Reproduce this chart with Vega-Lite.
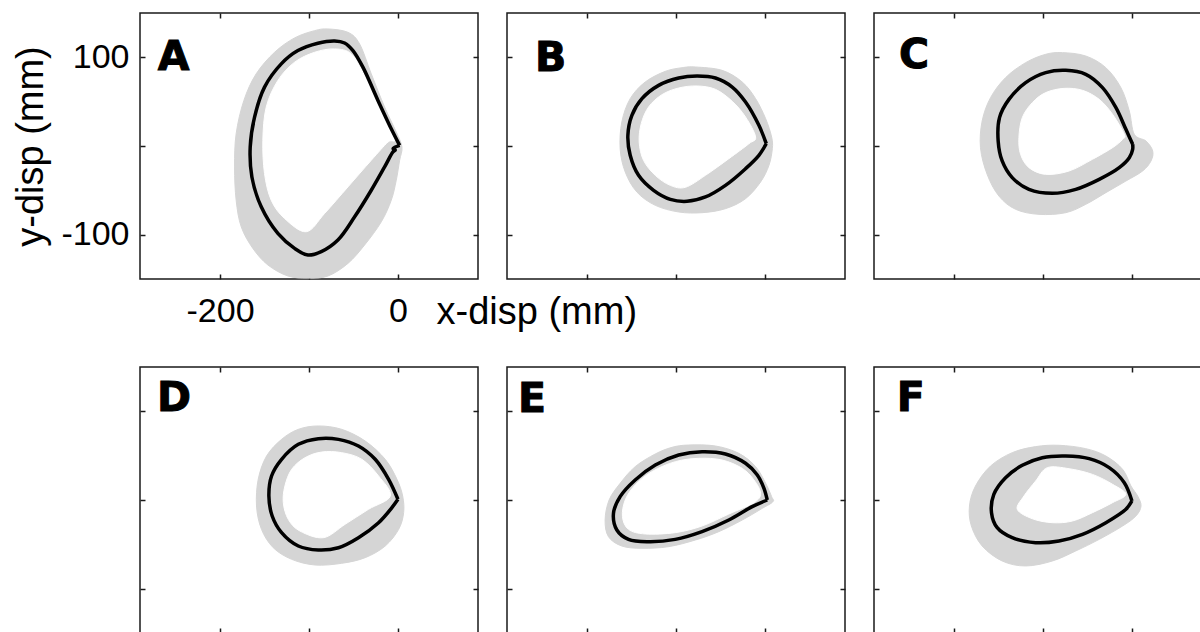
{
  "$schema": "https://vega.github.io/schema/vega-lite/v6.json",
  "background": "white",
  "padding": {"left": 12, "top": 11, "right": 0, "bottom": 0},
  "bounds": "flush",
  "columns": 3,
  "spacing": {"row": 88, "column": 29},
  "config": {
    "view": {"stroke": "#1a1a1a", "strokeWidth": 1.5},
    "axis": {
      "domain": false,
      "grid": false,
      "tickSize": -5,
      "tickColor": "#1a1a1a",
      "tickWidth": 1.5,
      "labelFont": "Liberation Sans",
      "labelFontSize": 34,
      "labelColor": "#000",
      "labelOverlap": false,
      "titleFont": "Liberation Sans",
      "titleFontSize": 38,
      "titleFontWeight": "normal",
      "titleColor": "#000"
    }
  },
  "datasets": {
    "paths": [
      {"p":"A","s":"outer","i":0,"x":-78.7,"y":132},{"p":"A","s":"outer","i":1,"x":-56.2,"y":128.2},{"p":"A","s":"outer","i":2,"x":-43.1,"y":115.1},{"p":"A","s":"outer","i":3,"x":-30,"y":81.4},{"p":"A","s":"outer","i":4,"x":-15,"y":43.9},{"p":"A","s":"outer","i":5,"x":-1.9,"y":15.7},{"p":"A","s":"outer","i":6,"x":4.5,"y":-1.1},{"p":"A","s":"outer","i":7,"x":1.9,"y":-16.1},{"p":"A","s":"outer","i":8,"x":-1.9,"y":-38.6},{"p":"A","s":"outer","i":9,"x":-7.5,"y":-61.1},{"p":"A","s":"outer","i":10,"x":-18.7,"y":-85.5},{"p":"A","s":"outer","i":11,"x":-37.5,"y":-111.7},{"p":"A","s":"outer","i":12,"x":-56.2,"y":-132.4},{"p":"A","s":"outer","i":13,"x":-78.7,"y":-146.6},{"p":"A","s":"outer","i":14,"x":-101.2,"y":-149},{"p":"A","s":"outer","i":15,"x":-123.7,"y":-146.6},{"p":"A","s":"outer","i":16,"x":-146.2,"y":-134.2},{"p":"A","s":"outer","i":17,"x":-163.1,"y":-115.5},{"p":"A","s":"outer","i":18,"x":-176.2,"y":-91.1},{"p":"A","s":"outer","i":19,"x":-181.9,"y":-61.1},{"p":"A","s":"outer","i":20,"x":-183.7,"y":-23.6},{"p":"A","s":"outer","i":21,"x":-181.9,"y":13.9},{"p":"A","s":"outer","i":22,"x":-173.2,"y":51.4},{"p":"A","s":"outer","i":23,"x":-159.4,"y":81.4},{"p":"A","s":"outer","i":24,"x":-138.7,"y":105.7},{"p":"A","s":"outer","i":25,"x":-116.2,"y":121.9},{"p":"A","s":"outer","i":26,"x":-93.7,"y":130.1},
      {"p":"A","s":"inner","i":0,"x":-3.7,"y":8.2},{"p":"A","s":"inner","i":1,"x":-18.7,"y":40.1},{"p":"A","s":"inner","i":2,"x":-37.5,"y":79.5},{"p":"A","s":"inner","i":3,"x":-52.5,"y":103.9},{"p":"A","s":"inner","i":4,"x":-71.2,"y":109.5},{"p":"A","s":"inner","i":5,"x":-93.7,"y":105.7},{"p":"A","s":"inner","i":6,"x":-116.2,"y":94.5},{"p":"A","s":"inner","i":7,"x":-135,"y":73.9},{"p":"A","s":"inner","i":8,"x":-148.1,"y":43.9},{"p":"A","s":"inner","i":9,"x":-151.9,"y":6.4},{"p":"A","s":"inner","i":10,"x":-150,"y":-31.1},{"p":"A","s":"inner","i":11,"x":-142.5,"y":-61.1},{"p":"A","s":"inner","i":12,"x":-127.5,"y":-81.7},{"p":"A","s":"inner","i":13,"x":-103.1,"y":-96.7},{"p":"A","s":"inner","i":14,"x":-82.5,"y":-76.1},{"p":"A","s":"inner","i":15,"x":-56.2,"y":-46.1},{"p":"A","s":"inner","i":16,"x":-30,"y":-16.1},{"p":"A","s":"inner","i":17,"x":-11.2,"y":4.5},
      {"p":"A","s":"mean","i":0,"x":1.9,"y":0.7},{"p":"A","s":"mean","i":1,"x":-5.6,"y":15.4},{"p":"A","s":"mean","i":2,"x":-22.5,"y":51.4},{"p":"A","s":"mean","i":3,"x":-39.4,"y":88.9},{"p":"A","s":"mean","i":4,"x":-50.6,"y":107.6},{"p":"A","s":"mean","i":5,"x":-60,"y":116.2},{"p":"A","s":"mean","i":6,"x":-71.2,"y":118.5},{"p":"A","s":"mean","i":7,"x":-90,"y":115.9},{"p":"A","s":"mean","i":8,"x":-112.5,"y":107.6},{"p":"A","s":"mean","i":9,"x":-131.2,"y":92.6},{"p":"A","s":"mean","i":10,"x":-150,"y":66.4},{"p":"A","s":"mean","i":11,"x":-161.2,"y":32.6},{"p":"A","s":"mean","i":12,"x":-166.1,"y":-1.1},{"p":"A","s":"mean","i":13,"x":-164.2,"y":-34.9},{"p":"A","s":"mean","i":14,"x":-153.7,"y":-68.6},{"p":"A","s":"mean","i":15,"x":-135,"y":-98.6},{"p":"A","s":"mean","i":16,"x":-116.2,"y":-115.5},{"p":"A","s":"mean","i":17,"x":-101.2,"y":-123},{"p":"A","s":"mean","i":18,"x":-86.2,"y":-119.2},{"p":"A","s":"mean","i":19,"x":-67.5,"y":-106.1},{"p":"A","s":"mean","i":20,"x":-48.7,"y":-79.9},{"p":"A","s":"mean","i":21,"x":-30,"y":-49.9},{"p":"A","s":"mean","i":22,"x":-15,"y":-23.6},{"p":"A","s":"mean","i":23,"x":-5.6,"y":-6.7},{"p":"A","s":"mean","i":24,"x":-3,"y":-4.5},{"p":"A","s":"mean","i":25,"x":-5.5,"y":-3},{"p":"A","s":"mean","i":26,"x":-3.5,"y":-1.5},{"p":"A","s":"mean","i":27,"x":1.9,"y":0.7},

      {"p":"B","s":"outer","i":0,"x":-78.2,"y":89.1},{"p":"B","s":"outer","i":1,"x":-48.1,"y":85.3},{"p":"B","s":"outer","i":2,"x":-25.6,"y":72.2},{"p":"B","s":"outer","i":3,"x":-10.5,"y":53.4},{"p":"B","s":"outer","i":4,"x":0.8,"y":30.8},{"p":"B","s":"outer","i":5,"x":7.5,"y":10.2},{"p":"B","s":"outer","i":6,"x":8.3,"y":-3},{"p":"B","s":"outer","i":7,"x":4.5,"y":-21.8},{"p":"B","s":"outer","i":8,"x":-4.9,"y":-40.6},{"p":"B","s":"outer","i":9,"x":-21.8,"y":-59.4},{"p":"B","s":"outer","i":10,"x":-44.4,"y":-70.7},{"p":"B","s":"outer","i":11,"x":-70.7,"y":-75.2},{"p":"B","s":"outer","i":12,"x":-97,"y":-74.4},{"p":"B","s":"outer","i":13,"x":-123.3,"y":-66.9},{"p":"B","s":"outer","i":14,"x":-144,"y":-51.9},{"p":"B","s":"outer","i":15,"x":-157.1,"y":-29.3},{"p":"B","s":"outer","i":16,"x":-162.8,"y":-3},{"p":"B","s":"outer","i":17,"x":-160.9,"y":27.1},{"p":"B","s":"outer","i":18,"x":-151.5,"y":53.4},{"p":"B","s":"outer","i":19,"x":-134.6,"y":72.2},{"p":"B","s":"outer","i":20,"x":-112,"y":84.2},{"p":"B","s":"outer","i":21,"x":-93.2,"y":88.3},
      {"p":"B","s":"inner","i":0,"x":-10.5,"y":10.2},{"p":"B","s":"inner","i":1,"x":-21.8,"y":32.7},{"p":"B","s":"inner","i":2,"x":-36.8,"y":50.4},{"p":"B","s":"inner","i":3,"x":-55.6,"y":63.9},{"p":"B","s":"inner","i":4,"x":-76.3,"y":67.7},{"p":"B","s":"inner","i":5,"x":-97,"y":65.4},{"p":"B","s":"inner","i":6,"x":-115.8,"y":57.9},{"p":"B","s":"inner","i":7,"x":-130.8,"y":44},{"p":"B","s":"inner","i":8,"x":-139.1,"y":25.2},{"p":"B","s":"inner","i":9,"x":-141.4,"y":4.5},{"p":"B","s":"inner","i":10,"x":-136.5,"y":-16.2},{"p":"B","s":"inner","i":11,"x":-123.3,"y":-33.1},{"p":"B","s":"inner","i":12,"x":-106.4,"y":-44.4},{"p":"B","s":"inner","i":13,"x":-89.5,"y":-46.6},{"p":"B","s":"inner","i":14,"x":-66.9,"y":-33.1},{"p":"B","s":"inner","i":15,"x":-40.6,"y":-14.3},{"p":"B","s":"inner","i":16,"x":-18,"y":2.6},
      {"p":"B","s":"mean","i":0,"x":1.5,"y":2.6},{"p":"B","s":"mean","i":1,"x":-6.8,"y":23.3},{"p":"B","s":"mean","i":2,"x":-21.8,"y":49.6},{"p":"B","s":"mean","i":3,"x":-36.8,"y":66.5},{"p":"B","s":"mean","i":4,"x":-55.6,"y":76.7},{"p":"B","s":"mean","i":5,"x":-76.3,"y":78.9},{"p":"B","s":"mean","i":6,"x":-97,"y":76.7},{"p":"B","s":"mean","i":7,"x":-119.5,"y":68.4},{"p":"B","s":"mean","i":8,"x":-138.3,"y":53.4},{"p":"B","s":"mean","i":9,"x":-149.6,"y":34.6},{"p":"B","s":"mean","i":10,"x":-154.1,"y":12},{"p":"B","s":"mean","i":11,"x":-151.5,"y":-10.5},{"p":"B","s":"mean","i":12,"x":-142.1,"y":-33.1},{"p":"B","s":"mean","i":13,"x":-125.2,"y":-50},{"p":"B","s":"mean","i":14,"x":-106.4,"y":-60.2},{"p":"B","s":"mean","i":15,"x":-87.6,"y":-62.4},{"p":"B","s":"mean","i":16,"x":-66.9,"y":-57.5},{"p":"B","s":"mean","i":17,"x":-44.4,"y":-44.4},{"p":"B","s":"mean","i":18,"x":-21.8,"y":-25.6},{"p":"B","s":"mean","i":19,"x":-6.8,"y":-10.5},{"p":"B","s":"mean","i":20,"x":1.5,"y":2.6},

      {"p":"C","s":"outer","i":0,"x":-78.2,"y":105.3},{"p":"C","s":"outer","i":1,"x":-51.9,"y":101.5},{"p":"C","s":"outer","i":2,"x":-29.3,"y":88.3},{"p":"C","s":"outer","i":3,"x":-12.4,"y":65.8},{"p":"C","s":"outer","i":4,"x":-3,"y":39.5},{"p":"C","s":"outer","i":5,"x":2.6,"y":13.2},{"p":"C","s":"outer","i":6,"x":15.8,"y":5.6},{"p":"C","s":"outer","i":7,"x":23.3,"y":-5.6},{"p":"C","s":"outer","i":8,"x":21.4,"y":-16.9},{"p":"C","s":"outer","i":9,"x":12,"y":-28.2},{"p":"C","s":"outer","i":10,"x":-6.8,"y":-39.5},{"p":"C","s":"outer","i":11,"x":-29.3,"y":-52.6},{"p":"C","s":"outer","i":12,"x":-51.9,"y":-65.8},{"p":"C","s":"outer","i":13,"x":-74.4,"y":-75.2},{"p":"C","s":"outer","i":14,"x":-104.5,"y":-77.1},{"p":"C","s":"outer","i":15,"x":-130.8,"y":-71.4},{"p":"C","s":"outer","i":16,"x":-149.6,"y":-56.4},{"p":"C","s":"outer","i":17,"x":-162.8,"y":-32},{"p":"C","s":"outer","i":18,"x":-170.3,"y":-1.9},{"p":"C","s":"outer","i":19,"x":-168.4,"y":28.2},{"p":"C","s":"outer","i":20,"x":-159,"y":54.5},{"p":"C","s":"outer","i":21,"x":-142.1,"y":77.1},{"p":"C","s":"outer","i":22,"x":-119.5,"y":94},{"p":"C","s":"outer","i":23,"x":-97,"y":103.4},
      {"p":"C","s":"inner","i":0,"x":-8.6,"y":13.2},{"p":"C","s":"inner","i":1,"x":-21.8,"y":35.7},{"p":"C","s":"inner","i":2,"x":-36.8,"y":52.6},{"p":"C","s":"inner","i":3,"x":-55.6,"y":62.8},{"p":"C","s":"inner","i":4,"x":-76.3,"y":65},{"p":"C","s":"inner","i":5,"x":-97,"y":60.2},{"p":"C","s":"inner","i":6,"x":-112,"y":48.9},{"p":"C","s":"inner","i":7,"x":-123.3,"y":32},{"p":"C","s":"inner","i":8,"x":-127.1,"y":9.4},{"p":"C","s":"inner","i":9,"x":-125.2,"y":-9.4},{"p":"C","s":"inner","i":10,"x":-115.8,"y":-24.4},{"p":"C","s":"inner","i":11,"x":-97,"y":-32},{"p":"C","s":"inner","i":12,"x":-70.7,"y":-28.2},{"p":"C","s":"inner","i":13,"x":-44.4,"y":-15},{"p":"C","s":"inner","i":14,"x":-21.8,"y":-1.9},{"p":"C","s":"inner","i":15,"x":-10.5,"y":7.5},
      {"p":"C","s":"mean","i":0,"x":0.8,"y":1.9},{"p":"C","s":"mean","i":1,"x":-6.8,"y":18.8},{"p":"C","s":"mean","i":2,"x":-18,"y":43.2},{"p":"C","s":"mean","i":3,"x":-33.1,"y":65.8},{"p":"C","s":"mean","i":4,"x":-51.9,"y":80.8},{"p":"C","s":"mean","i":5,"x":-74.4,"y":85.3},{"p":"C","s":"mean","i":6,"x":-97,"y":82.7},{"p":"C","s":"mean","i":7,"x":-119.5,"y":71.4},{"p":"C","s":"mean","i":8,"x":-138.3,"y":52.6},{"p":"C","s":"mean","i":9,"x":-148.9,"y":32},{"p":"C","s":"mean","i":10,"x":-150.4,"y":5.6},{"p":"C","s":"mean","i":11,"x":-145.9,"y":-16.9},{"p":"C","s":"mean","i":12,"x":-134.6,"y":-35.7},{"p":"C","s":"mean","i":13,"x":-115.8,"y":-48.9},{"p":"C","s":"mean","i":14,"x":-89.5,"y":-53.4},{"p":"C","s":"mean","i":15,"x":-63.2,"y":-48.9},{"p":"C","s":"mean","i":16,"x":-36.8,"y":-37.6},{"p":"C","s":"mean","i":17,"x":-14.3,"y":-24.4},{"p":"C","s":"mean","i":18,"x":-3,"y":-13.2},{"p":"C","s":"mean","i":19,"x":0.8,"y":-3.8},{"p":"C","s":"mean","i":20,"x":0.8,"y":1.9},

      {"p":"D","s":"outer","i":0,"x":-89.5,"y":83.5},{"p":"D","s":"outer","i":1,"x":-63.2,"y":79.7},{"p":"D","s":"outer","i":2,"x":-36.8,"y":66.5},{"p":"D","s":"outer","i":3,"x":-14.3,"y":45.9},{"p":"D","s":"outer","i":4,"x":-1.1,"y":23.3},{"p":"D","s":"outer","i":5,"x":5.3,"y":4.5},{"p":"D","s":"outer","i":6,"x":6.4,"y":-14.3},{"p":"D","s":"outer","i":7,"x":0.8,"y":-33.1},{"p":"D","s":"outer","i":8,"x":-14.3,"y":-51.9},{"p":"D","s":"outer","i":9,"x":-36.8,"y":-65},{"p":"D","s":"outer","i":10,"x":-63.2,"y":-71.4},{"p":"D","s":"outer","i":11,"x":-93.2,"y":-73.3},{"p":"D","s":"outer","i":12,"x":-119.5,"y":-66.9},{"p":"D","s":"outer","i":13,"x":-140.2,"y":-53.8},{"p":"D","s":"outer","i":14,"x":-153.4,"y":-33.1},{"p":"D","s":"outer","i":15,"x":-159,"y":-6.8},{"p":"D","s":"outer","i":16,"x":-157.1,"y":23.3},{"p":"D","s":"outer","i":17,"x":-147.7,"y":49.6},{"p":"D","s":"outer","i":18,"x":-130.8,"y":68.4},{"p":"D","s":"outer","i":19,"x":-112,"y":79.7},
      {"p":"D","s":"inner","i":0,"x":-8.6,"y":4.5},{"p":"D","s":"inner","i":1,"x":-21.8,"y":27.1},{"p":"D","s":"inner","i":2,"x":-40.6,"y":45.9},{"p":"D","s":"inner","i":3,"x":-63.2,"y":53.4},{"p":"D","s":"inner","i":4,"x":-85.7,"y":54.1},{"p":"D","s":"inner","i":5,"x":-104.5,"y":47.7},{"p":"D","s":"inner","i":6,"x":-119.5,"y":34.6},{"p":"D","s":"inner","i":7,"x":-127.1,"y":15.8},{"p":"D","s":"inner","i":8,"x":-128.9,"y":-3},{"p":"D","s":"inner","i":9,"x":-123.3,"y":-21.8},{"p":"D","s":"inner","i":10,"x":-110.2,"y":-35},{"p":"D","s":"inner","i":11,"x":-83.8,"y":-42.5},{"p":"D","s":"inner","i":12,"x":-59.4,"y":-27.4},{"p":"D","s":"inner","i":13,"x":-33.1,"y":-10.5},
      {"p":"D","s":"mean","i":0,"x":0,"y":0.8},{"p":"D","s":"mean","i":1,"x":-10.5,"y":23.3},{"p":"D","s":"mean","i":2,"x":-25.6,"y":45.9},{"p":"D","s":"mean","i":3,"x":-44.4,"y":60.9},{"p":"D","s":"mean","i":4,"x":-66.9,"y":68.4},{"p":"D","s":"mean","i":5,"x":-89.5,"y":69.2},{"p":"D","s":"mean","i":6,"x":-112,"y":62.8},{"p":"D","s":"mean","i":7,"x":-130.8,"y":45.9},{"p":"D","s":"mean","i":8,"x":-142.1,"y":27.1},{"p":"D","s":"mean","i":9,"x":-145.1,"y":4.5},{"p":"D","s":"mean","i":10,"x":-141.4,"y":-18},{"p":"D","s":"mean","i":11,"x":-130.8,"y":-36.8},{"p":"D","s":"mean","i":12,"x":-112,"y":-51.9},{"p":"D","s":"mean","i":13,"x":-89.5,"y":-56.4},{"p":"D","s":"mean","i":14,"x":-66.9,"y":-53.8},{"p":"D","s":"mean","i":15,"x":-44.4,"y":-42.5},{"p":"D","s":"mean","i":16,"x":-21.8,"y":-25.6},{"p":"D","s":"mean","i":17,"x":-6.8,"y":-8.6},{"p":"D","s":"mean","i":18,"x":0,"y":0.8},

      {"p":"E","s":"outer","i":0,"x":-85.7,"y":62},{"p":"E","s":"outer","i":1,"x":-55.6,"y":60.9},{"p":"E","s":"outer","i":2,"x":-29.3,"y":52.6},{"p":"E","s":"outer","i":3,"x":-10.5,"y":37.6},{"p":"E","s":"outer","i":4,"x":0.8,"y":18.8},{"p":"E","s":"outer","i":5,"x":7.5,"y":3.8},{"p":"E","s":"outer","i":6,"x":9,"y":-1.9},{"p":"E","s":"outer","i":7,"x":-3,"y":-9.4},{"p":"E","s":"outer","i":8,"x":-25.6,"y":-22.6},{"p":"E","s":"outer","i":9,"x":-51.9,"y":-35.7},{"p":"E","s":"outer","i":10,"x":-78.2,"y":-45.1},{"p":"E","s":"outer","i":11,"x":-108.3,"y":-52.6},{"p":"E","s":"outer","i":12,"x":-138.3,"y":-54.5},{"p":"E","s":"outer","i":13,"x":-160.9,"y":-51.9},{"p":"E","s":"outer","i":14,"x":-175.9,"y":-41.4},{"p":"E","s":"outer","i":15,"x":-179.7,"y":-22.6},{"p":"E","s":"outer","i":16,"x":-175.2,"y":0},{"p":"E","s":"outer","i":17,"x":-162.8,"y":18.8},{"p":"E","s":"outer","i":18,"x":-145.9,"y":37.6},{"p":"E","s":"outer","i":19,"x":-123.3,"y":51.9},{"p":"E","s":"outer","i":20,"x":-104.5,"y":59.4},
      {"p":"E","s":"inner","i":0,"x":-4.9,"y":7.5},{"p":"E","s":"inner","i":1,"x":-12.4,"y":22.6},{"p":"E","s":"inner","i":2,"x":-25.6,"y":35.7},{"p":"E","s":"inner","i":3,"x":-48.1,"y":45.1},{"p":"E","s":"inner","i":4,"x":-74.4,"y":47},{"p":"E","s":"inner","i":5,"x":-100.8,"y":43.2},{"p":"E","s":"inner","i":6,"x":-127.1,"y":32},{"p":"E","s":"inner","i":7,"x":-145.9,"y":16.9},{"p":"E","s":"inner","i":8,"x":-157.1,"y":0},{"p":"E","s":"inner","i":9,"x":-160.2,"y":-18.8},{"p":"E","s":"inner","i":10,"x":-153.4,"y":-33.1},{"p":"E","s":"inner","i":11,"x":-134.6,"y":-38.3},{"p":"E","s":"inner","i":12,"x":-100.8,"y":-36.8},{"p":"E","s":"inner","i":13,"x":-70.7,"y":-29.3},{"p":"E","s":"inner","i":14,"x":-40.6,"y":-15.8},{"p":"E","s":"inner","i":15,"x":-12.4,"y":-3},
      {"p":"E","s":"mean","i":0,"x":2.6,"y":0},{"p":"E","s":"mean","i":1,"x":-1.1,"y":13.2},{"p":"E","s":"mean","i":2,"x":-8.6,"y":28.2},{"p":"E","s":"mean","i":3,"x":-21.8,"y":41.4},{"p":"E","s":"mean","i":4,"x":-44.4,"y":51.9},{"p":"E","s":"mean","i":5,"x":-70.7,"y":54.5},{"p":"E","s":"mean","i":6,"x":-97,"y":50.8},{"p":"E","s":"mean","i":7,"x":-123.3,"y":39.5},{"p":"E","s":"mean","i":8,"x":-145.9,"y":22.6},{"p":"E","s":"mean","i":9,"x":-162.8,"y":3.8},{"p":"E","s":"mean","i":10,"x":-170.3,"y":-15},{"p":"E","s":"mean","i":11,"x":-166.5,"y":-33.8},{"p":"E","s":"mean","i":12,"x":-153.4,"y":-44.4},{"p":"E","s":"mean","i":13,"x":-130.8,"y":-47},{"p":"E","s":"mean","i":14,"x":-100.8,"y":-44.4},{"p":"E","s":"mean","i":15,"x":-70.7,"y":-35.7},{"p":"E","s":"mean","i":16,"x":-40.6,"y":-22.6},{"p":"E","s":"mean","i":17,"x":-14.3,"y":-7.5},{"p":"E","s":"mean","i":18,"x":2.6,"y":0},

      {"p":"F","s":"outer","i":0,"x":-82,"y":61.7},{"p":"F","s":"outer","i":1,"x":-51.9,"y":57.9},{"p":"F","s":"outer","i":2,"x":-29.3,"y":49.6},{"p":"F","s":"outer","i":3,"x":-10.5,"y":34.6},{"p":"F","s":"outer","i":4,"x":-1.1,"y":15.8},{"p":"F","s":"outer","i":5,"x":6.4,"y":4.5},{"p":"F","s":"outer","i":6,"x":10.2,"y":-6.8},{"p":"F","s":"outer","i":7,"x":4.5,"y":-18},{"p":"F","s":"outer","i":8,"x":-10.5,"y":-29.3},{"p":"F","s":"outer","i":9,"x":-36.8,"y":-44.4},{"p":"F","s":"outer","i":10,"x":-63.2,"y":-57.5},{"p":"F","s":"outer","i":11,"x":-89.5,"y":-68.8},{"p":"F","s":"outer","i":12,"x":-119.5,"y":-74.4},{"p":"F","s":"outer","i":13,"x":-145.9,"y":-68.8},{"p":"F","s":"outer","i":14,"x":-168.4,"y":-51.9},{"p":"F","s":"outer","i":15,"x":-180.5,"y":-29.3},{"p":"F","s":"outer","i":16,"x":-182.7,"y":-6.8},{"p":"F","s":"outer","i":17,"x":-175.9,"y":15.8},{"p":"F","s":"outer","i":18,"x":-159,"y":38.3},{"p":"F","s":"outer","i":19,"x":-134.6,"y":53.4},{"p":"F","s":"outer","i":20,"x":-108.3,"y":60.2},
      {"p":"F","s":"inner","i":0,"x":-6.8,"y":6.4},{"p":"F","s":"inner","i":1,"x":-21.8,"y":17.7},{"p":"F","s":"inner","i":2,"x":-44.4,"y":28.9},{"p":"F","s":"inner","i":3,"x":-70.7,"y":35.3},{"p":"F","s":"inner","i":4,"x":-95.1,"y":36.5},{"p":"F","s":"inner","i":5,"x":-108.3,"y":21.4},{"p":"F","s":"inner","i":6,"x":-121.4,"y":4.5},{"p":"F","s":"inner","i":7,"x":-128.9,"y":-10.5},{"p":"F","s":"inner","i":8,"x":-112,"y":-21.1},{"p":"F","s":"inner","i":9,"x":-89.5,"y":-25.6},{"p":"F","s":"inner","i":10,"x":-66.9,"y":-23.7},{"p":"F","s":"inner","i":11,"x":-44.4,"y":-14.3},{"p":"F","s":"inner","i":12,"x":-21.8,"y":-3},
      {"p":"F","s":"mean","i":0,"x":0,"y":-1.1},{"p":"F","s":"mean","i":1,"x":-8.6,"y":19.5},{"p":"F","s":"mean","i":2,"x":-25.6,"y":36.5},{"p":"F","s":"mean","i":3,"x":-48.1,"y":46.6},{"p":"F","s":"mean","i":4,"x":-74.4,"y":49.6},{"p":"F","s":"mean","i":5,"x":-100.8,"y":47.7},{"p":"F","s":"mean","i":6,"x":-123.3,"y":39.1},{"p":"F","s":"mean","i":7,"x":-142.1,"y":25.2},{"p":"F","s":"mean","i":8,"x":-155.3,"y":6.4},{"p":"F","s":"mean","i":9,"x":-157.9,"y":-14.3},{"p":"F","s":"mean","i":10,"x":-151.5,"y":-31.2},{"p":"F","s":"mean","i":11,"x":-134.6,"y":-42.5},{"p":"F","s":"mean","i":12,"x":-108.3,"y":-48.1},{"p":"F","s":"mean","i":13,"x":-82,"y":-46.2},{"p":"F","s":"mean","i":14,"x":-55.6,"y":-38.7},{"p":"F","s":"mean","i":15,"x":-29.3,"y":-25.6},{"p":"F","s":"mean","i":16,"x":-6.8,"y":-10.5},{"p":"F","s":"mean","i":17,"x":0,"y":-1.1}
    ],
    "letters": [
      {"p":"A","x":-270,"y":85.6},
      {"p":"B","x":-258.5,"y":84.5},
      {"p":"C","x":-262,"y":87.8},
      {"p":"D","x":-271,"y":100},
      {"p":"E","x":-277.5,"y":99},
      {"p":"F","x":-264.5,"y":100}
    ]
  },
  "concat": [
    {
      "width": 338, "height": 266,
      "resolve": {"axis": {"x": "independent", "y": "independent"}},
      "layer": [
        {
          "data": {"name": "paths"},
          "transform": [{"filter": "datum.p === 'A' && datum.s === 'outer'"}],
          "mark": {"type": "line", "fill": "#d5d5d5", "stroke": "#d5d5d5", "strokeWidth": 1, "interpolate": "cardinal-closed"},
          "encoding": {
            "x": {"field": "x", "type": "quantitative", "scale": {"domain": [-290, 90], "nice": false, "zero": false},
                  "axis": {"orient": "bottom", "values": [-200, -100, 0], "labelExpr": "datum.value === -100 ? '' : '' + datum.value", "labelPadding": 20, "title": "x-disp (mm)", "titleX": 296, "titleY": 44, "titleAlign": "left", "titleBaseline": "alphabetic"}},
            "y": {"field": "y", "type": "quantitative", "scale": {"domain": [-150, 150], "nice": false, "zero": false},
                  "axis": {"orient": "left", "values": [-100, 0, 100], "labelExpr": "datum.value === 0 ? '' : '' + datum.value", "labelPadding": 16, "title": "y-disp (mm)", "titlePadding": 10}},
            "order": {"field": "i", "type": "quantitative"}
          }
        },
        {
          "data": {"name": "paths"},
          "transform": [{"filter": "datum.p === 'A' && datum.s === 'inner'"}],
          "mark": {"type": "line", "fill": "#ffffff", "stroke": "#ffffff", "strokeWidth": 1, "interpolate": "cardinal-closed"},
          "encoding": {
            "x": {"field": "x", "type": "quantitative", "axis": null},
            "y": {"field": "y", "type": "quantitative", "axis": null},
            "order": {"field": "i", "type": "quantitative"}
          }
        },
        {
          "data": {"name": "paths"},
          "transform": [{"filter": "datum.p === 'A' && datum.s === 'mean'"}],
          "mark": {"type": "line", "color": "#000", "strokeWidth": 3.5, "strokeJoin": "round", "interpolate": "catmull-rom"},
          "encoding": {
            "x": {"field": "x", "type": "quantitative", "axis": null},
            "y": {"field": "y", "type": "quantitative", "axis": null},
            "order": {"field": "i", "type": "quantitative"}
          }
        },
        {
          "data": {"name": "letters"},
          "transform": [{"filter": "datum.p === 'A'"}],
          "mark": {"type": "text", "font": "DejaVu Sans", "fontWeight": "bold", "fontSize": 41, "align": "left", "baseline": "alphabetic", "color": "#000", "stroke": "#000", "strokeWidth": 1},
          "encoding": {
            "x": {"field": "x", "type": "quantitative", "axis": {"orient": "top", "values": [-200, -100, 0], "labels": false, "title": null}},
            "y": {"field": "y", "type": "quantitative", "axis": {"orient": "right", "values": [-100, 0, 100], "labels": false, "title": null}},
            "text": {"field": "p"}
          }
        }
      ]
    },
    {
      "width": 338, "height": 266,
      "resolve": {"axis": {"x": "independent", "y": "independent"}},
      "layer": [
        {
          "data": {"name": "paths"},
          "transform": [{"filter": "datum.p === 'B' && datum.s === 'outer'"}],
          "mark": {"type": "line", "fill": "#d5d5d5", "stroke": "#d5d5d5", "strokeWidth": 1, "interpolate": "cardinal-closed"},
          "encoding": {
            "x": {"field": "x", "type": "quantitative", "scale": {"domain": [-290, 90], "nice": false, "zero": false}, "axis": {"orient": "bottom", "values": [-200, -100, 0], "labels": false, "title": null}},
            "y": {"field": "y", "type": "quantitative", "scale": {"domain": [-150, 150], "nice": false, "zero": false}, "axis": {"orient": "left", "values": [-100, 0, 100], "labels": false, "title": null}},
            "order": {"field": "i", "type": "quantitative"}
          }
        },
        {
          "data": {"name": "paths"},
          "transform": [{"filter": "datum.p === 'B' && datum.s === 'inner'"}],
          "mark": {"type": "line", "fill": "#ffffff", "stroke": "#ffffff", "strokeWidth": 1, "interpolate": "cardinal-closed"},
          "encoding": {
            "x": {"field": "x", "type": "quantitative", "axis": null},
            "y": {"field": "y", "type": "quantitative", "axis": null},
            "order": {"field": "i", "type": "quantitative"}
          }
        },
        {
          "data": {"name": "paths"},
          "transform": [{"filter": "datum.p === 'B' && datum.s === 'mean'"}],
          "mark": {"type": "line", "color": "#000", "strokeWidth": 3.5, "strokeJoin": "round", "interpolate": "catmull-rom"},
          "encoding": {
            "x": {"field": "x", "type": "quantitative", "axis": null},
            "y": {"field": "y", "type": "quantitative", "axis": null},
            "order": {"field": "i", "type": "quantitative"}
          }
        },
        {
          "data": {"name": "letters"},
          "transform": [{"filter": "datum.p === 'B'"}],
          "mark": {"type": "text", "font": "DejaVu Sans", "fontWeight": "bold", "fontSize": 41, "align": "left", "baseline": "alphabetic", "color": "#000", "stroke": "#000", "strokeWidth": 1},
          "encoding": {
            "x": {"field": "x", "type": "quantitative", "axis": {"orient": "top", "values": [-200, -100, 0], "labels": false, "title": null}},
            "y": {"field": "y", "type": "quantitative", "axis": {"orient": "right", "values": [-100, 0, 100], "labels": false, "title": null}},
            "text": {"field": "p"}
          }
        }
      ]
    },
    {
      "width": 338, "height": 266,
      "resolve": {"axis": {"x": "independent", "y": "independent"}},
      "layer": [
        {
          "data": {"name": "paths"},
          "transform": [{"filter": "datum.p === 'C' && datum.s === 'outer'"}],
          "mark": {"type": "line", "fill": "#d5d5d5", "stroke": "#d5d5d5", "strokeWidth": 1, "interpolate": "cardinal-closed"},
          "encoding": {
            "x": {"field": "x", "type": "quantitative", "scale": {"domain": [-290, 90], "nice": false, "zero": false}, "axis": {"orient": "bottom", "values": [-200, -100, 0], "labels": false, "title": null}},
            "y": {"field": "y", "type": "quantitative", "scale": {"domain": [-150, 150], "nice": false, "zero": false}, "axis": {"orient": "left", "values": [-100, 0, 100], "labels": false, "title": null}},
            "order": {"field": "i", "type": "quantitative"}
          }
        },
        {
          "data": {"name": "paths"},
          "transform": [{"filter": "datum.p === 'C' && datum.s === 'inner'"}],
          "mark": {"type": "line", "fill": "#ffffff", "stroke": "#ffffff", "strokeWidth": 1, "interpolate": "cardinal-closed"},
          "encoding": {
            "x": {"field": "x", "type": "quantitative", "axis": null},
            "y": {"field": "y", "type": "quantitative", "axis": null},
            "order": {"field": "i", "type": "quantitative"}
          }
        },
        {
          "data": {"name": "paths"},
          "transform": [{"filter": "datum.p === 'C' && datum.s === 'mean'"}],
          "mark": {"type": "line", "color": "#000", "strokeWidth": 3.5, "strokeJoin": "round", "interpolate": "catmull-rom"},
          "encoding": {
            "x": {"field": "x", "type": "quantitative", "axis": null},
            "y": {"field": "y", "type": "quantitative", "axis": null},
            "order": {"field": "i", "type": "quantitative"}
          }
        },
        {
          "data": {"name": "letters"},
          "transform": [{"filter": "datum.p === 'C'"}],
          "mark": {"type": "text", "font": "DejaVu Sans", "fontWeight": "bold", "fontSize": 41, "align": "left", "baseline": "alphabetic", "color": "#000", "stroke": "#000", "strokeWidth": 1},
          "encoding": {
            "x": {"field": "x", "type": "quantitative", "axis": {"orient": "top", "values": [-200, -100, 0], "labels": false, "title": null}},
            "y": {"field": "y", "type": "quantitative", "axis": {"orient": "right", "values": [-100, 0, 100], "labels": false, "title": null}},
            "text": {"field": "p"}
          }
        }
      ]
    },
    {
      "width": 338, "height": 266,
      "resolve": {"axis": {"x": "independent", "y": "independent"}},
      "layer": [
        {
          "data": {"name": "paths"},
          "transform": [{"filter": "datum.p === 'D' && datum.s === 'outer'"}],
          "mark": {"type": "line", "fill": "#d5d5d5", "stroke": "#d5d5d5", "strokeWidth": 1, "interpolate": "cardinal-closed"},
          "encoding": {
            "x": {"field": "x", "type": "quantitative", "scale": {"domain": [-290, 90], "nice": false, "zero": false}, "axis": {"orient": "bottom", "values": [-200, -100, 0], "labels": false, "title": null}},
            "y": {"field": "y", "type": "quantitative", "scale": {"domain": [-150, 150], "nice": false, "zero": false}, "axis": {"orient": "left", "values": [-100, 0, 100], "labels": false, "title": null}},
            "order": {"field": "i", "type": "quantitative"}
          }
        },
        {
          "data": {"name": "paths"},
          "transform": [{"filter": "datum.p === 'D' && datum.s === 'inner'"}],
          "mark": {"type": "line", "fill": "#ffffff", "stroke": "#ffffff", "strokeWidth": 1, "interpolate": "cardinal-closed"},
          "encoding": {
            "x": {"field": "x", "type": "quantitative", "axis": null},
            "y": {"field": "y", "type": "quantitative", "axis": null},
            "order": {"field": "i", "type": "quantitative"}
          }
        },
        {
          "data": {"name": "paths"},
          "transform": [{"filter": "datum.p === 'D' && datum.s === 'mean'"}],
          "mark": {"type": "line", "color": "#000", "strokeWidth": 3.5, "strokeJoin": "round", "interpolate": "catmull-rom"},
          "encoding": {
            "x": {"field": "x", "type": "quantitative", "axis": null},
            "y": {"field": "y", "type": "quantitative", "axis": null},
            "order": {"field": "i", "type": "quantitative"}
          }
        },
        {
          "data": {"name": "letters"},
          "transform": [{"filter": "datum.p === 'D'"}],
          "mark": {"type": "text", "font": "DejaVu Sans", "fontWeight": "bold", "fontSize": 41, "align": "left", "baseline": "alphabetic", "color": "#000", "stroke": "#000", "strokeWidth": 1},
          "encoding": {
            "x": {"field": "x", "type": "quantitative", "axis": {"orient": "top", "values": [-200, -100, 0], "labels": false, "title": null}},
            "y": {"field": "y", "type": "quantitative", "axis": {"orient": "right", "values": [-100, 0, 100], "labels": false, "title": null}},
            "text": {"field": "p"}
          }
        }
      ]
    },
    {
      "width": 338, "height": 266,
      "resolve": {"axis": {"x": "independent", "y": "independent"}},
      "layer": [
        {
          "data": {"name": "paths"},
          "transform": [{"filter": "datum.p === 'E' && datum.s === 'outer'"}],
          "mark": {"type": "line", "fill": "#d5d5d5", "stroke": "#d5d5d5", "strokeWidth": 1, "interpolate": "cardinal-closed"},
          "encoding": {
            "x": {"field": "x", "type": "quantitative", "scale": {"domain": [-290, 90], "nice": false, "zero": false}, "axis": {"orient": "bottom", "values": [-200, -100, 0], "labels": false, "title": null}},
            "y": {"field": "y", "type": "quantitative", "scale": {"domain": [-150, 150], "nice": false, "zero": false}, "axis": {"orient": "left", "values": [-100, 0, 100], "labels": false, "title": null}},
            "order": {"field": "i", "type": "quantitative"}
          }
        },
        {
          "data": {"name": "paths"},
          "transform": [{"filter": "datum.p === 'E' && datum.s === 'inner'"}],
          "mark": {"type": "line", "fill": "#ffffff", "stroke": "#ffffff", "strokeWidth": 1, "interpolate": "cardinal-closed"},
          "encoding": {
            "x": {"field": "x", "type": "quantitative", "axis": null},
            "y": {"field": "y", "type": "quantitative", "axis": null},
            "order": {"field": "i", "type": "quantitative"}
          }
        },
        {
          "data": {"name": "paths"},
          "transform": [{"filter": "datum.p === 'E' && datum.s === 'mean'"}],
          "mark": {"type": "line", "color": "#000", "strokeWidth": 3.5, "strokeJoin": "round", "interpolate": "catmull-rom"},
          "encoding": {
            "x": {"field": "x", "type": "quantitative", "axis": null},
            "y": {"field": "y", "type": "quantitative", "axis": null},
            "order": {"field": "i", "type": "quantitative"}
          }
        },
        {
          "data": {"name": "letters"},
          "transform": [{"filter": "datum.p === 'E'"}],
          "mark": {"type": "text", "font": "DejaVu Sans", "fontWeight": "bold", "fontSize": 41, "align": "left", "baseline": "alphabetic", "color": "#000", "stroke": "#000", "strokeWidth": 1},
          "encoding": {
            "x": {"field": "x", "type": "quantitative", "axis": {"orient": "top", "values": [-200, -100, 0], "labels": false, "title": null}},
            "y": {"field": "y", "type": "quantitative", "axis": {"orient": "right", "values": [-100, 0, 100], "labels": false, "title": null}},
            "text": {"field": "p"}
          }
        }
      ]
    },
    {
      "width": 338, "height": 266,
      "resolve": {"axis": {"x": "independent", "y": "independent"}},
      "layer": [
        {
          "data": {"name": "paths"},
          "transform": [{"filter": "datum.p === 'F' && datum.s === 'outer'"}],
          "mark": {"type": "line", "fill": "#d5d5d5", "stroke": "#d5d5d5", "strokeWidth": 1, "interpolate": "cardinal-closed"},
          "encoding": {
            "x": {"field": "x", "type": "quantitative", "scale": {"domain": [-290, 90], "nice": false, "zero": false}, "axis": {"orient": "bottom", "values": [-200, -100, 0], "labels": false, "title": null}},
            "y": {"field": "y", "type": "quantitative", "scale": {"domain": [-150, 150], "nice": false, "zero": false}, "axis": {"orient": "left", "values": [-100, 0, 100], "labels": false, "title": null}},
            "order": {"field": "i", "type": "quantitative"}
          }
        },
        {
          "data": {"name": "paths"},
          "transform": [{"filter": "datum.p === 'F' && datum.s === 'inner'"}],
          "mark": {"type": "line", "fill": "#ffffff", "stroke": "#ffffff", "strokeWidth": 1, "interpolate": "cardinal-closed"},
          "encoding": {
            "x": {"field": "x", "type": "quantitative", "axis": null},
            "y": {"field": "y", "type": "quantitative", "axis": null},
            "order": {"field": "i", "type": "quantitative"}
          }
        },
        {
          "data": {"name": "paths"},
          "transform": [{"filter": "datum.p === 'F' && datum.s === 'mean'"}],
          "mark": {"type": "line", "color": "#000", "strokeWidth": 3.5, "strokeJoin": "round", "interpolate": "catmull-rom"},
          "encoding": {
            "x": {"field": "x", "type": "quantitative", "axis": null},
            "y": {"field": "y", "type": "quantitative", "axis": null},
            "order": {"field": "i", "type": "quantitative"}
          }
        },
        {
          "data": {"name": "letters"},
          "transform": [{"filter": "datum.p === 'F'"}],
          "mark": {"type": "text", "font": "DejaVu Sans", "fontWeight": "bold", "fontSize": 41, "align": "left", "baseline": "alphabetic", "color": "#000", "stroke": "#000", "strokeWidth": 1},
          "encoding": {
            "x": {"field": "x", "type": "quantitative", "axis": {"orient": "top", "values": [-200, -100, 0], "labels": false, "title": null}},
            "y": {"field": "y", "type": "quantitative", "axis": {"orient": "right", "values": [-100, 0, 100], "labels": false, "title": null}},
            "text": {"field": "p"}
          }
        }
      ]
    }
  ]
}
